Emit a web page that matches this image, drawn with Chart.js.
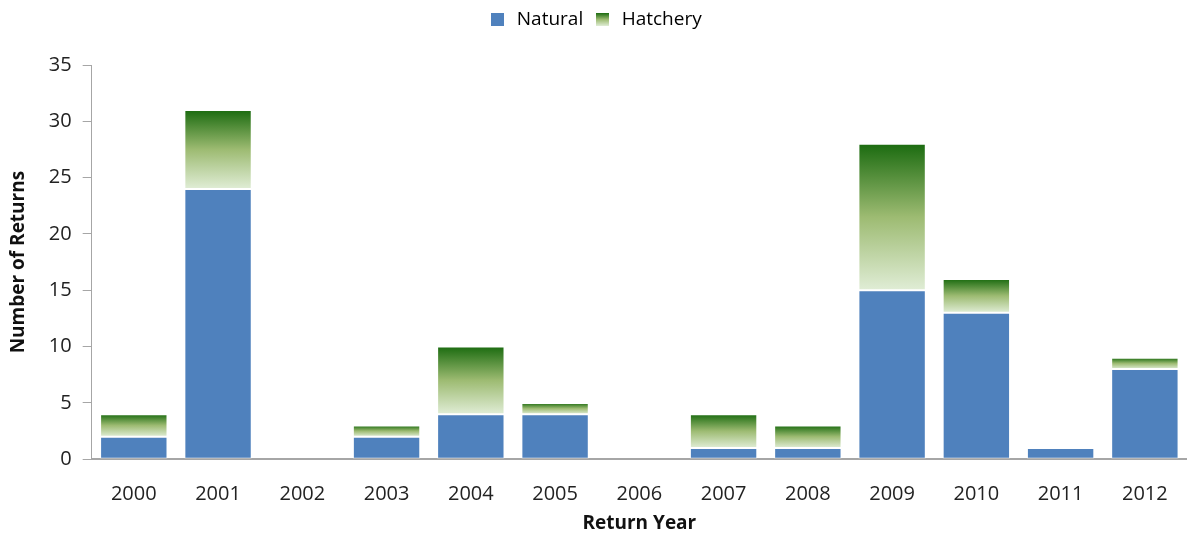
<!DOCTYPE html>
<html>
<head>
<meta charset="utf-8">
<script src="https://cdn.jsdelivr.net/npm/chart.js@4/dist/chart.umd.min.js"></script>
<style>
  html, body { margin: 0; padding: 0; background: #fff; }
  #wrap { width: 1187px; height: 535px; }
</style>
</head>
<body>
<div id="wrap"><canvas id="myChart"></canvas></div>
<script>
const years = ["2000", "2001", "2002", "2003", "2004", "2005", "2006", "2007", "2008", "2009", "2010", "2011", "2012"];
const natural = [2, 24, 0, 2, 4, 4, 0, 1, 1, 15, 13, 1, 8];
const hatchery = [2, 7, 0, 1, 6, 1, 0, 3, 2, 13, 3, 0, 1];

const azul = "#4F81BD";
const fuente = "'Open Sans', 'DejaVu Sans', sans-serif";

// degradado verde de arriba (oscuro) a abajo (claro)
function degradado(ctx, yTop, yBottom) {
  const g = ctx.createLinearGradient(0, yTop, 0, yBottom);
  g.addColorStop(0, "#1B6B10");
  g.addColorStop(0.5, "#9DBB72");
  g.addColorStop(1, "#E0EDD6");
  return g;
}

function colorHatchery(context) {
  const chart = context.chart;
  if (!chart.chartArea || !chart.scales.y) return "#9DBB72";
  const i = context.dataIndex;
  const y = chart.scales.y;
  const top = y.getPixelForValue(natural[i] + hatchery[i]);
  const bottom = y.getPixelForValue(natural[i]);
  if (bottom - top < 1) return "#9DBB72";
  return degradado(chart.ctx, top, bottom);
}

// cuadritos de la leyenda
function cuadro(tipo) {
  const c = document.createElement("canvas");
  c.width = 13; c.height = 13;
  const cx = c.getContext("2d");
  cx.fillStyle = tipo === "azul" ? azul : degradado(cx, 0, 13);
  cx.fillRect(0, 0, 13, 13);
  return c;
}
const iconos = [cuadro("azul"), cuadro("verde")];

// espacio extra debajo de la leyenda
const margenLeyenda = {
  id: "margenLeyenda",
  beforeInit(chart) {
    const fitOriginal = chart.legend.fit;
    chart.legend.fit = function () {
      fitOriginal.bind(chart.legend)();
      this.height += 26;
    };
  },
};

const config = {
  type: "bar",
  data: {
    labels: years,
    datasets: [
      {
        label: "Natural",
        data: natural,
        backgroundColor: azul,
        borderColor: "rgba(255,255,255,0.35)",
        borderWidth: 1,
        borderSkipped: false,
        barPercentage: 0.8,
        categoryPercentage: 1.0,
      },
      {
        label: "Hatchery",
        data: hatchery,
        backgroundColor: colorHatchery,
        borderColor: "rgba(255,255,255,0.35)",
        borderWidth: 1,
        borderSkipped: false,
        barPercentage: 0.8,
        categoryPercentage: 1.0,
      },
    ],
  },
  options: {
    responsive: true,
    maintainAspectRatio: false,
    animation: false,
    layout: { padding: { top: 0, right: 0, left: 3, bottom: 0 } },
    plugins: {
      tooltip: { enabled: false },
      legend: {
        position: "top",
        labels: {
          usePointStyle: true,
          font: { family: fuente, size: 19 },
          color: "#222",
          padding: 10,
          generateLabels: (chart) =>
            chart.data.datasets.map((ds, i) => ({
              text: ds.label,
              pointStyle: iconos[i],
              datasetIndex: i,
              lineWidth: 0,
              strokeStyle: "transparent",
            })),
        },
      },
    },
    scales: {
      x: {
        stacked: true,
        grid: { display: false },
        border: { display: true, color: "#A6A6A6", width: 2 },
        ticks: { font: { family: fuente, size: 20 }, color: "#222", padding: 15 },
        title: {
          display: true,
          text: "Return Year",
          font: { family: fuente, size: 19, weight: "bold" },
          color: "#111",
          padding: { top: -9, bottom: 0 },
        },
      },
      y: {
        stacked: true,
        min: 0,
        max: 35,
        grid: { display: true, drawOnChartArea: false, tickLength: 9, color: "#A6A6A6" },
        border: { display: true, color: "#A6A6A6", width: 1 },
        ticks: { stepSize: 5, font: { family: fuente, size: 20 }, color: "#222", padding: 11 },
        title: {
          display: true,
          text: "Number of Returns",
          font: { family: fuente, size: 19, weight: "bold" },
          color: "#111",
          padding: { bottom: 8 },
        },
      },
    },
  },
  plugins: [margenLeyenda],
};

new Chart(document.getElementById("myChart").getContext("2d"), config);
</script>
</body>
</html>
